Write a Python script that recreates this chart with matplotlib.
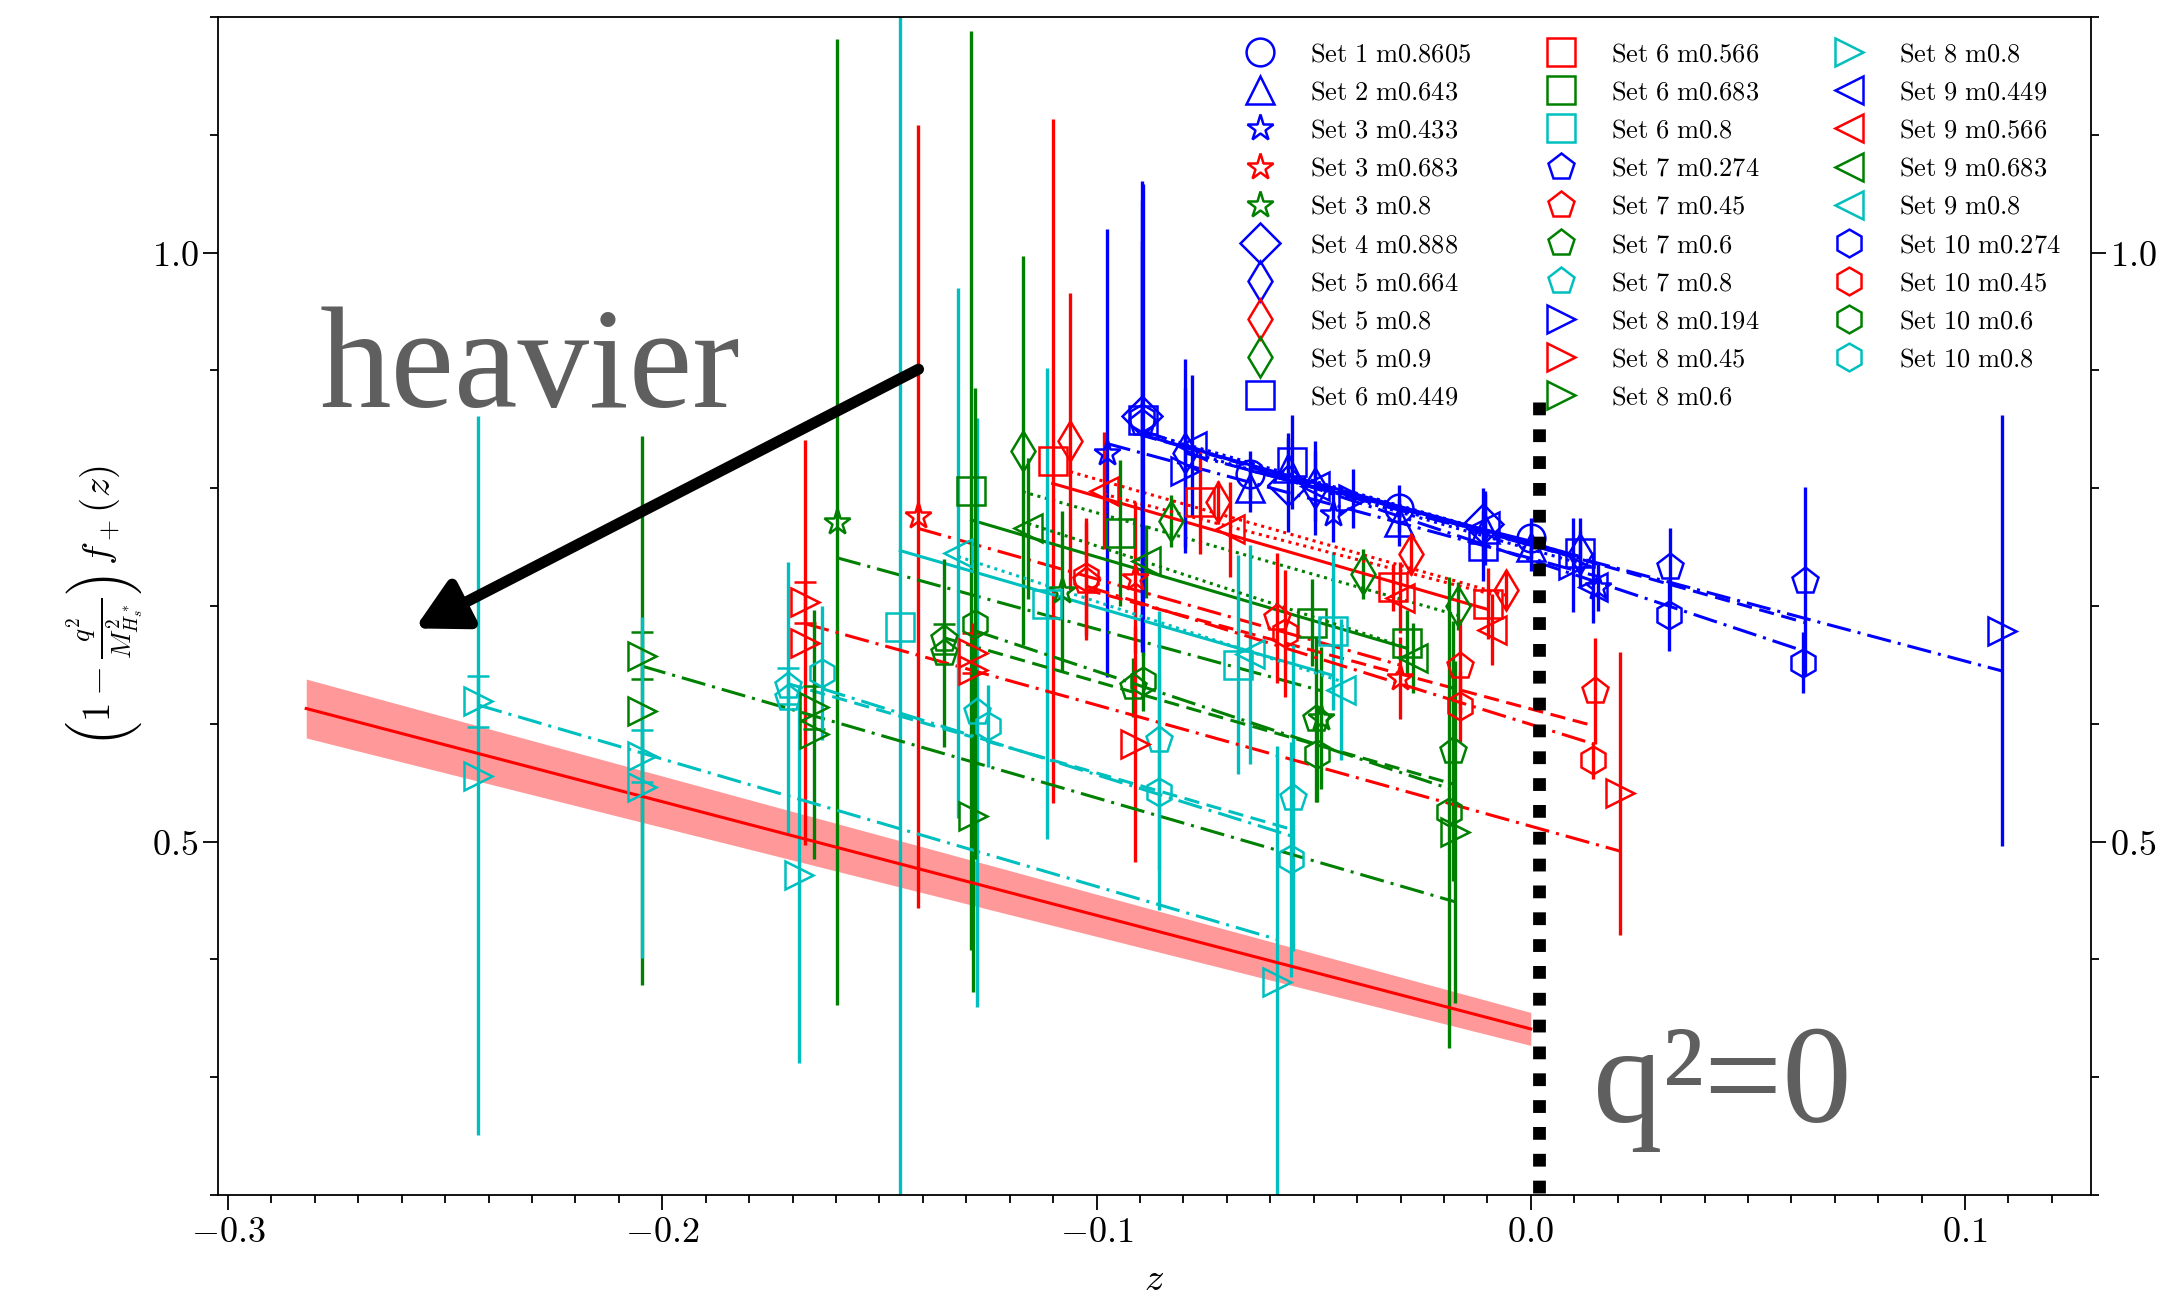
import matplotlib
matplotlib.use("Agg")
from matplotlib import pyplot as plt
from matplotlib.lines import Line2D
from matplotlib.patches import ArrowStyle
from matplotlib.ticker import MultipleLocator, FuncFormatter

# each point: (z, value, error, capped)
set1_m08605 = [(-0.0647, 0.812, 0.020, 0), (-0.0303, 0.783, 0.020, 0), (0.0, 0.758, 0.017, 0)]
set2_m0643 = [(-0.0647, 0.800, 0.020, 0), (-0.0559, 0.817, 0.030, 0), (-0.0303, 0.771, 0.020, 0),
              (-0.0106, 0.765, 0.030, 0), (0.0, 0.750, 0.020, 0)]
set3_m0433 = [(-0.0977, 0.830, 0.190, 0), (-0.0455, 0.778, 0.024, 0), (0.0155, 0.716, 0.020, 0)]
set3_m0683 = [(-0.1412, 0.776, 0.332, 0), (-0.0911, 0.724, 0.064, 0), (-0.0302, 0.639, 0.035, 0)]
set3_m08 = [(-0.1598, 0.771, 0.410, 0), (-0.1080, 0.713, 0.068, 0), (-0.0482, 0.605, 0.060, 0)]
set4_m0888 = [(-0.0896, 0.861, 0.200, 0), (-0.0559, 0.803, 0.040, 0), (-0.0110, 0.770, 0.030, 0)]
set5_m0664 = [(-0.0797, 0.830, 0.080, 0), (-0.0497, 0.800, 0.040, 0), (0.0113, 0.744, 0.020, 0)]
set5_m08 = [(-0.1061, 0.840, 0.126, 0), (-0.0720, 0.788, 0.018, 0), (-0.0275, 0.744, 0.018, 0),
            (-0.0056, 0.714, 0.017, 0)]
set5_m09 = [(-0.1170, 0.832, 0.165, 0), (-0.0828, 0.772, 0.022, 0), (-0.0386, 0.727, 0.021, 0),
            (-0.0167, 0.700, 0.020, 0)]
set6_m0449 = [(-0.0892, 0.858, 0.200, 0), (-0.0551, 0.822, 0.040, 0), (-0.0110, 0.751, 0.030, 0),
              (0.0113, 0.745, 0.030, 0)]
set6_m0566 = [(-0.1101, 0.823, 0.290, 0), (-0.0762, 0.788, 0.044, 0), (-0.0317, 0.716, 0.020, 0),
              (-0.0098, 0.702, 0.030, 0)]
set6_m0683 = [(-0.1288, 0.798, 0.390, 0), (-0.0946, 0.762, 0.062, 0), (-0.0503, 0.686, 0.037, 0),
              (-0.0284, 0.669, 0.028, 0)]
set6_m08 = [(-0.1452, 0.682, 0.530, 0), (-0.1115, 0.702, 0.200, 0), (-0.0674, 0.650, 0.093, 0),
            (-0.0455, 0.679, 0.067, 0)]
set7_m0274 = [(-0.0896, 0.855, 0.190, 0), (0.0320, 0.733, 0.033, 0), (0.0631, 0.721, 0.080, 0)]
set7_m045 = [(-0.1025, 0.721, 0.050, 0), (-0.0585, 0.690, 0.055, 0), (-0.0163, 0.649, 0.040, 0),
             (0.0148, 0.628, 0.045, 0)]
set7_m06 = [(-0.1351, 0.672, 0.013, 1), (-0.1351, 0.660, 0.080, 0), (-0.0916, 0.631, 0.025, 0),
            (-0.0494, 0.604, 0.070, 0), (-0.0180, 0.577, 0.110, 0)]
set7_m08 = [(-0.1710, 0.632, 0.015, 1), (-0.1710, 0.622, 0.115, 0), (-0.1276, 0.610, 0.250, 0),
            (-0.0856, 0.586, 0.110, 0), (-0.0547, 0.537, 0.130, 0)]
set8_m0194 = [(-0.0797, 0.815, 0.070, 0), (-0.0409, 0.791, 0.025, 0), (0.0098, 0.735, 0.040, 0),
              (0.1084, 0.679, 0.183, 0)]
set8_m045 = [(-0.1671, 0.703, 0.017, 1), (-0.1671, 0.669, 0.172, 0), (-0.1284, 0.660, 0.017, 1),
             (-0.1284, 0.646, 0.040, 0), (-0.0911, 0.583, 0.100, 0), (0.0205, 0.541, 0.120, 0)]
set8_m06 = [(-0.2047, 0.658, 0.020, 1), (-0.2047, 0.611, 0.233, 0), (-0.1650, 0.614, 0.018, 1),
            (-0.1650, 0.591, 0.106, 0), (-0.1284, 0.522, 0.150, 0), (-0.0175, 0.508, 0.145, 0)]
set8_m08 = [(-0.2424, 0.619, 0.022, 1), (-0.2424, 0.556, 0.305, 0), (-0.2047, 0.573, 0.022, 1),
            (-0.2047, 0.546, 0.145, 0), (-0.1685, 0.472, 0.160, 0), (-0.0584, 0.381, 0.200, 0)]
set9_m0449 = [(-0.0781, 0.836, 0.060, 0), (-0.0497, 0.802, 0.030, 0), (-0.0106, 0.768, 0.030, 0),
              (0.0144, 0.716, 0.030, 0)]
set9_m0566 = [(-0.0984, 0.798, 0.050, 0), (-0.0693, 0.765, 0.040, 0), (-0.0302, 0.707, 0.030, 0),
              (-0.0090, 0.680, 0.030, 0)]
set9_m0683 = [(-0.1157, 0.766, 0.060, 0), (-0.0885, 0.738, 0.031, 0), (-0.0271, 0.656, 0.030, 0)]
set9_m08 = [(-0.1319, 0.745, 0.225, 0), (-0.0646, 0.659, 0.093, 0), (-0.0436, 0.629, 0.060, 0)]
set10_m0274 = [(-0.0896, 0.860, 0.150, 0), (0.0319, 0.692, 0.030, 0), (0.0627, 0.652, 0.026, 0)]
set10_m045 = [(-0.1025, 0.725, 0.050, 0), (-0.0566, 0.677, 0.054, 0), (-0.0163, 0.615, 0.030, 0),
              (0.0144, 0.569, 0.016, 0)]
set10_m06 = [(-0.1280, 0.685, 0.200, 0), (-0.0893, 0.636, 0.025, 0), (-0.0492, 0.574, 0.040, 0),
             (-0.0188, 0.525, 0.200, 0)]
set10_m08 = [(-0.1633, 0.643, 0.057, 0), (-0.1249, 0.598, 0.035, 0), (-0.0856, 0.542, 0.100, 0),
             (-0.0553, 0.485, 0.100, 0)]

# fitted lines, (z, value) at both ends
fit_set1_m08605 = [(-0.0647, 0.815), (0.0, 0.755)]
fit_set2_m0643 = [(-0.0647, 0.818), (0.0, 0.752)]
fit_set3_m0433 = [(-0.0977, 0.838), (0.0155, 0.725)]
fit_set3_m0683 = [(-0.1412, 0.766), (-0.0302, 0.650)]
fit_set3_m08 = [(-0.1598, 0.741), (-0.0482, 0.628)]
fit_set4_m0888 = [(-0.0896, 0.848), (-0.0110, 0.765)]
fit_set5_m0664 = [(-0.0797, 0.835), (0.0113, 0.742)]
fit_set5_m08 = [(-0.1061, 0.814), (-0.0056, 0.709)]
fit_set5_m09 = [(-0.1170, 0.797), (-0.0167, 0.692)]
fit_set6_m0449 = [(-0.0892, 0.845), (0.0113, 0.742)]
fit_set6_m0566 = [(-0.1101, 0.804), (-0.0098, 0.697)]
fit_set6_m0683 = [(-0.1288, 0.773), (-0.0284, 0.664)]
fit_set6_m08 = [(-0.1452, 0.747), (-0.0455, 0.641)]
fit_set7_m0274 = [(-0.0896, 0.845), (0.0631, 0.686)]
fit_set7_m045 = [(-0.1025, 0.714), (0.0148, 0.598)]
fit_set7_m06 = [(-0.1351, 0.673), (-0.0180, 0.549)]
fit_set7_m08 = [(-0.1710, 0.634), (-0.0547, 0.510)]
fit_set8_m0194 = [(-0.0797, 0.830), (0.1084, 0.645)]
fit_set8_m045 = [(-0.1671, 0.685), (0.0205, 0.492)]
fit_set8_m06 = [(-0.2047, 0.649), (-0.0175, 0.449)]
fit_set8_m08 = [(-0.2424, 0.616), (-0.0584, 0.417)]
fit_set9_m0449 = [(-0.0781, 0.830), (0.0144, 0.733)]
fit_set9_m0566 = [(-0.0984, 0.795), (-0.0090, 0.710)]
fit_set9_m0683 = [(-0.1157, 0.770), (-0.0271, 0.663)]
fit_set9_m08 = [(-0.1319, 0.742), (-0.0436, 0.636)]
fit_set10_m0274 = [(-0.0896, 0.849), (0.0627, 0.662)]
fit_set10_m045 = [(-0.1025, 0.717), (0.0144, 0.583)]
fit_set10_m06 = [(-0.1280, 0.679), (-0.0188, 0.545)]
fit_set10_m08 = [(-0.1633, 0.630), (-0.0553, 0.505)]

# continuum result with its band
cont_z = [-0.282, 0.0]
cont_f = [0.613, 0.341]
cont_err = [0.025, 0.014]

z_q2_zero = 0.002

series = [
    ("Set 1 m0.8605", "o", "b", "-", set1_m08605, fit_set1_m08605),
    ("Set 2 m0.643", "^", "b", "--", set2_m0643, fit_set2_m0643),
    ("Set 3 m0.433", "*", "b", "-.", set3_m0433, fit_set3_m0433),
    ("Set 3 m0.683", "*", "r", "-.", set3_m0683, fit_set3_m0683),
    ("Set 3 m0.8", "*", "g", "-.", set3_m08, fit_set3_m08),
    ("Set 4 m0.888", "D", "b", ":", set4_m0888, fit_set4_m0888),
    ("Set 5 m0.664", "d", "b", ":", set5_m0664, fit_set5_m0664),
    ("Set 5 m0.8", "d", "r", ":", set5_m08, fit_set5_m08),
    ("Set 5 m0.9", "d", "g", ":", set5_m09, fit_set5_m09),
    ("Set 6 m0.449", "s", "b", "-", set6_m0449, fit_set6_m0449),
    ("Set 6 m0.566", "s", "r", "-", set6_m0566, fit_set6_m0566),
    ("Set 6 m0.683", "s", "g", "-", set6_m0683, fit_set6_m0683),
    ("Set 6 m0.8", "s", "c", "-", set6_m08, fit_set6_m08),
    ("Set 7 m0.274", "p", "b", "--", set7_m0274, fit_set7_m0274),
    ("Set 7 m0.45", "p", "r", "--", set7_m045, fit_set7_m045),
    ("Set 7 m0.6", "p", "g", "--", set7_m06, fit_set7_m06),
    ("Set 7 m0.8", "p", "c", "--", set7_m08, fit_set7_m08),
    ("Set 8 m0.194", ">", "b", "-.", set8_m0194, fit_set8_m0194),
    ("Set 8 m0.45", ">", "r", "-.", set8_m045, fit_set8_m045),
    ("Set 8 m0.6", ">", "g", "-.", set8_m06, fit_set8_m06),
    ("Set 8 m0.8", ">", "c", "-.", set8_m08, fit_set8_m08),
    ("Set 9 m0.449", "<", "b", ":", set9_m0449, fit_set9_m0449),
    ("Set 9 m0.566", "<", "r", ":", set9_m0566, fit_set9_m0566),
    ("Set 9 m0.683", "<", "g", ":", set9_m0683, fit_set9_m0683),
    ("Set 9 m0.8", "<", "c", ":", set9_m08, fit_set9_m08),
    ("Set 10 m0.274", "h", "b", "-.", set10_m0274, fit_set10_m0274),
    ("Set 10 m0.45", "h", "r", "-.", set10_m045, fit_set10_m045),
    ("Set 10 m0.6", "h", "g", "-.", set10_m06, fit_set10_m06),
    ("Set 10 m0.8", "h", "c", "-.", set10_m08, fit_set10_m08),
]

plt.rcParams["mathtext.fontset"] = "cm"
plt.rcParams["lines.dashed_pattern"] = [5.0, 2.5]
plt.rcParams["lines.dashdot_pattern"] = [8.0, 2.3, 1.0, 2.3]
plt.rcParams["lines.dotted_pattern"] = [1.0, 1.5]

MS = 20
MEW = 1.8
ELW = 2.4
FIT_LW = 2.2

fig = plt.figure(figsize=(21.72, 12.97), dpi=100)
ax = fig.add_axes([0.1004, 0.0786, 0.8623, 0.9083])

for label, marker, color, ls, points, fit in series:
    for capped in (0, 1):
        sel = [p for p in points if p[3] == capped]
        if not sel:
            continue
        ax.errorbar(
            [p[0] for p in sel], [p[1] for p in sel], yerr=[p[2] for p in sel],
            fmt=marker, color=color, mfc="none", ms=MS, mew=MEW,
            elinewidth=ELW, capsize=8 if capped else 0, capthick=ELW,
        )
    ax.plot([q[0] for q in fit], [q[1] for q in fit], ls=ls, color=color, lw=FIT_LW)

# continuum extrapolation
lo = [f - e for f, e in zip(cont_f, cont_err)]
hi = [f + e for f, e in zip(cont_f, cont_err)]
ax.fill_between(cont_z, lo, hi, color="#ff9999", lw=0, zorder=1)
ax.plot(cont_z, cont_f, color="r", lw=2.2, zorder=2)

# q^2 = 0 marker line
ax.plot([z_q2_zero, z_q2_zero], [0.873, 0.19], color="k", lw=9.2,
        dashes=(1.0, 1.1), dash_capstyle="butt", zorder=5)

ax.annotate(
    "", xy=(-0.257, 0.681), xytext=(-0.141, 0.901),
    arrowprops=dict(arrowstyle=ArrowStyle("-|>", head_length=0.6, head_width=0.32),
                    mutation_scale=50, lw=8, color="k", shrinkA=0, shrinkB=0),
)
ax.text(-0.279, 0.869, "heavier", family="Liberation Serif", fontsize=103,
        color="#5f5f5f", va="baseline", ha="left")
ax.text(0.0143, 0.262, "q\u00b2=0", family="Liberation Serif", fontsize=100,
        color="#5f5f5f", va="baseline", ha="left")

ax.set_xlim(-0.3023, 0.129)
ax.set_ylim(0.2, 1.2)

ax.xaxis.set_major_locator(MultipleLocator(0.1))
ax.xaxis.set_minor_locator(MultipleLocator(0.01))
ax.yaxis.set_major_locator(MultipleLocator(0.5))
ax.yaxis.set_minor_locator(MultipleLocator(0.1))
ax.xaxis.set_major_formatter(FuncFormatter(lambda v, pos: "$%.1f$" % (0.0 if abs(v) < 1e-9 else v)))
ax.yaxis.set_major_formatter(FuncFormatter(lambda v, pos: "$%.1f$" % v))

ax.tick_params(which="both", direction="out", top=False, right=True, labelright=True, width=1.3)
ax.tick_params(which="major", length=11, labelsize=26, pad=3)
ax.tick_params(which="minor", length=6)
for sp in ax.spines.values():
    sp.set_linewidth(1.3)

ax.set_xlabel("$z$", fontsize=28, labelpad=8)
ax.set_ylabel(r"$\left(1-\frac{q^2}{M^2_{H_s^*}}\right)\,f_+(z)$", fontsize=28, labelpad=4)

handles = [
    Line2D([], [], ls="none", marker=m, color=c, mfc="none", ms=MS, mew=MEW, label=lab)
    for lab, m, c, _, _, _ in series
]
labels = [r"$\mathrm{%s}$" % lab.replace(" ", r"\ ") for lab, *_ in series]
ax.legend(handles, labels, ncol=3, loc="upper right", bbox_to_anchor=(0.994, 0.995),
          frameon=False, fontsize=19, labelspacing=0.46, handlelength=2.0,
          handletextpad=0.9, columnspacing=2.4, borderaxespad=0.3)

fig.savefig("out.png", dpi=100)
